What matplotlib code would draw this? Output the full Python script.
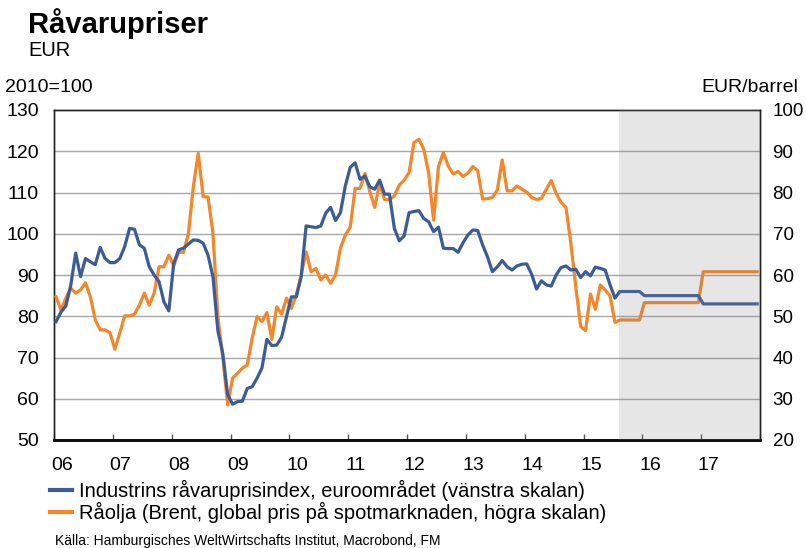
import numpy as np
import matplotlib.pyplot as plt
from matplotlib.lines import Line2D

plt.rcParams['font.family'] = ['Liberation Sans', 'DejaVu Sans']

# Industrins råvaruprisindex, euroområdet (2010=100), månadsdata jan 2006 - jul 2015
industri = [78.7, 81.0, 82.5, 87.5, 95.3, 89.6, 94.0, 93.2, 92.5, 96.7, 94.0, 93.0,
            93.0, 94.0, 96.9, 101.3, 101.1, 97.3, 96.5, 92.0, 90.0, 88.4, 83.5, 81.3,
            92.8, 96.1, 96.5, 97.5, 98.5, 98.4, 97.7, 94.8, 89.6, 76.5, 71.0, 61.0,
            58.7, 59.3, 59.4, 62.5, 62.9, 65.0, 67.5, 74.4, 72.9, 73.0, 74.9, 79.9,
            84.7, 84.7, 89.6, 101.9, 101.7, 101.5, 101.9, 105.0, 106.4, 103.2, 105.1, 111.6,
            116.1, 117.2, 113.2, 114.0, 111.4, 110.8, 113.0, 109.6, 109.6, 101.3, 98.3, 99.5,
            105.1, 105.4, 105.6, 103.7, 102.9, 100.5, 101.6, 96.5, 96.4, 96.4, 95.5, 97.8,
            99.7, 100.9, 100.8, 97.3, 94.4, 90.8, 92.0, 93.5, 92.0, 91.2, 92.2, 92.6,
            92.7, 90.2, 86.6, 88.6, 87.6, 87.3, 90.0, 91.8, 92.2, 91.2, 91.4, 89.4,
            90.8, 89.8, 91.9, 91.6, 91.2, 87.6, 84.4]

# Råolja Brent, EUR/barrel
olja = [54.7, 51.5, 54.4, 56.8, 55.6, 56.4, 58.1, 54.7, 49.1, 46.7, 46.7, 46.0,
        42.0, 46.0, 50.1, 50.1, 50.5, 52.7, 55.6, 52.7, 55.6, 62.0, 62.0, 64.8,
        62.2, 65.5, 65.5, 70.1, 81.4, 89.5, 79.0, 78.9, 70.1, 49.9, 40.2, 28.5,
        35.0, 36.2, 37.4, 38.2, 44.7, 49.9, 48.7, 50.9, 44.4, 52.3, 50.5, 54.4,
        51.9, 55.2, 60.0, 65.6, 60.8, 61.6, 58.8, 60.0, 58.0, 60.0, 66.5, 69.7,
        71.6, 81.0, 81.0, 84.6, 80.2, 76.4, 82.2, 78.3, 78.2, 79.2, 81.8, 83.0,
        84.8, 92.1, 92.9, 90.5, 84.7, 73.3, 86.3, 89.7, 86.4, 84.5, 85.1, 83.9,
        84.7, 86.3, 85.3, 78.4, 78.5, 78.8, 80.6, 87.9, 80.4, 80.4, 81.6, 80.8,
        80.1, 78.8, 78.3, 78.6, 80.8, 82.9, 79.8, 77.6, 76.4, 67.7, 57.2, 47.5,
        46.5, 55.4, 51.7, 57.6, 56.4, 54.9, 48.5]

# prognos aug 2015 - dec 2017 (månadsvis)
industri_prognos = [86, 86, 86, 86, 86,
                    85, 85, 85, 85, 85, 85, 85, 85, 85, 85, 85, 85,
                    83, 83, 83, 83, 83, 83, 83, 83, 83, 83, 83, 83]
olja_prognos = [49.1, 49.1, 49.1, 49.1, 49.1,
                53.3, 53.3, 53.3, 53.3, 53.3, 53.3, 53.3, 53.3, 53.3, 53.3, 53.3, 53.3,
                60.8, 60.8, 60.8, 60.8, 60.8, 60.8, 60.8, 60.8, 60.8, 60.8, 60.8, 60.8]

prognos_start = 2015.6
years = list(range(2006, 2018))
year_labels = ['06', '07', '08', '09', '10', '11', '12', '13', '14', '15', '16', '17']

BLUE = '#3b5c99'
ORANGE = '#f5862a'

blue_all = industri + industri_prognos
oil_all = olja + olja_prognos
t = 2006 + (np.arange(len(blue_all)) + 0.42) / 12.0

fig = plt.figure(figsize=(8.06, 5.48), dpi=100)
ax = fig.add_axes([54 / 806, 1 - 440 / 548, 706 / 806, 330 / 548])
ax2 = ax.twinx()

ax.set_xlim(2006, 2018)
ax.set_ylim(50, 130)
ax2.set_ylim(20, 100)

for y in range(60, 130, 10):
    ax.axhline(y, color='#a8a8a8', lw=1.0, zorder=1)

# högra skalan = vänstra - 30, så båda linjerna ritas i ax2
ax2.plot(t, oil_all, color=ORANGE, lw=2.3, zorder=4, solid_joinstyle='round')
ax2.plot(t, np.array(blue_all) - 30, color=BLUE, lw=2.3, zorder=5, solid_joinstyle='round')

# skuggat prognosområde (läggs över linjerna så att de blir dämpade)
ax2.axvspan(prognos_start, 2018, color='#828385', alpha=0.2, lw=0, zorder=6)

ax.set_yticks(range(50, 131, 10))
ax2.set_yticks(range(20, 101, 10))
ax.tick_params(axis='y', length=0, pad=11, labelsize=14)
ax2.tick_params(axis='y', length=0, pad=9, labelsize=13.5)

ax.set_xticks(years + [2018])
ax.set_xticklabels([])
ax.tick_params(axis='x', which='major', direction='in', length=4, width=1, color='#555555')
ax.set_xticks([y + 0.13 for y in years], minor=True)
ax.set_xticklabels(year_labels, minor=True)
ax.tick_params(axis='x', which='minor', length=0, pad=12, labelsize=14)

for a in (ax, ax2):
    for s in ('top', 'left', 'right'):
        a.spines[s].set_linewidth(1.0)
        a.spines[s].set_color('#222222')
    a.spines['bottom'].set_linewidth(2.0)
    a.spines['bottom'].set_color('#111111')

fig.text(28 / 806, 1 - 24 / 548, 'Råvarupriser', fontsize=21, fontweight='bold', va='center', ha='left')
fig.text(28 / 806, 1 - 50 / 548, 'EUR', fontsize=14.5, va='center', ha='left')
fig.text(5 / 806, 1 - 88 / 548, '2010=100', fontsize=14, va='center', ha='left')
fig.text(798 / 806, 1 - 88 / 548, 'EUR/barrel', fontsize=14, va='center', ha='right')

handles = [Line2D([], [], color=BLUE, lw=3), Line2D([], [], color=ORANGE, lw=3)]
labels = ['Industrins råvaruprisindex, euroområdet (vänstra skalan)',
          'Råolja (Brent, global pris på spotmarknaden, högra skalan)']
fig.legend(handles, labels, loc='upper left', bbox_to_anchor=(50 / 806, 1 - 480 / 548),
           frameon=False, fontsize=14.5, handlelength=1.1, handletextpad=0.35,
           labelspacing=0.05, borderpad=0, borderaxespad=0)

fig.text(55 / 806, 1 - 541 / 548, 'Källa: Hamburgisches WeltWirtschafts Institut, Macrobond, FM',
         fontsize=10, va='center', ha='left')

fig.savefig('out.png', dpi=100)
